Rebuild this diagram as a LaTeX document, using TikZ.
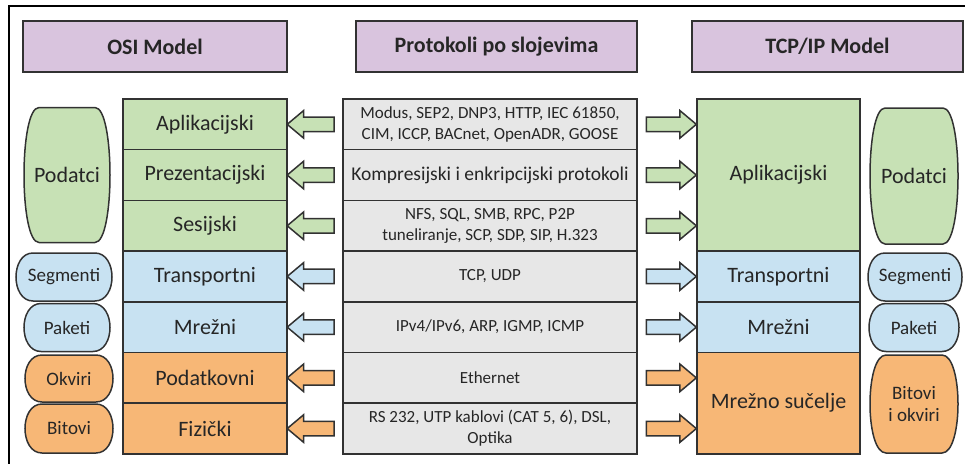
\documentclass[tikz,border=0pt]{standalone}
\usepackage{fontspec}
\setmainfont{Carlito}
\usetikzlibrary{positioning,calc,shapes.arrows,backgrounds}

\definecolor{hdrpurple}{RGB}{217,196,222}
\definecolor{laygreen}{RGB}{199,225,181}
\definecolor{layblue}{RGB}{200,226,242}
\definecolor{layorange}{RGB}{247,183,118}
\definecolor{protgrey}{RGB}{231,231,231}
\definecolor{edgegrey}{RGB}{50,50,50}
\definecolor{txtdark}{RGB}{38,38,38}

\tikzset{hdrbox/.style={
  shape=rectangle,
  draw=edgegrey,
  fill=hdrpurple,
  line width=2pt,
  minimum height=51pt,
  outer sep=0pt,
  text=txtdark,
  font=\fontsize{22}{26}\selectfont\bfseries,
  },
  layerbox/.style={
  shape=rectangle,
  draw=edgegrey,
  line width=1.5pt,
  minimum width=164pt,
  minimum height=50.7pt,
  outer sep=0pt,
  text=txtdark,
  font=\fontsize{22}{26}\selectfont,
  },
  protbox/.style={
  shape=rectangle,
  draw=edgegrey,
  fill=protgrey,
  line width=1.5pt,
  minimum width=294pt,
  minimum height=50.7pt,
  outer sep=0pt,
  align=center,
  text=txtdark,
  font=\fontsize{17}{21}\selectfont,
  },
  pillbox/.style={
  shape=rectangle,
  inner sep=0pt,
  outer sep=0pt,
  align=center,
  text=txtdark,
  font=\fontsize{19}{22}\selectfont,
  },
  pilledge/.style={
  draw=edgegrey,
  line width=1.5pt,
  },
  larrow/.style={
  shape=single arrow,
  shape border rotate=180,
  draw=edgegrey,
  line width=1.5pt,
  inner sep=6.5pt,
  single arrow head extend=6.5pt,
  single arrow tip angle=80,
  minimum height=47pt,
  },
  rarrow/.style={
  larrow,
  shape border rotate=0,
  minimum height=50pt,
  },
  }

% barrel outline round a pill node: #1 node, #2 bulge, #3 fill
\newcommand{\barrelpill}[3]{%
  \path[pilledge, fill=#3]
    ($(#1.north west)+(#2,0)$) -- ($(#1.north east)+(-#2,0)$)
    .. controls ($(#1.north east)+(#2/3,0)$) and ($(#1.south east)+(#2/3,0)$) .. ($(#1.south east)+(-#2,0)$)
    -- ($(#1.south west)+(#2,0)$)
    .. controls ($(#1.south west)+(-#2/3,0)$) and ($(#1.north west)+(-#2/3,0)$) .. cycle;}

\begin{document}
\begin{tikzpicture}[x=1pt,y=-1pt]
  \useasboundingbox (0,0) rectangle (965,463);
  \draw[line width=1.2pt, black] (9,6) rectangle (975,475);

  % headers
  \node[hdrbox, minimum width=264pt] (osi)   at (155,46.5)   {OSI Model};
  \node[hdrbox, minimum width=281pt] (prot)  at (496.5,46.5) {Protokoli po slojevima};
  \node[hdrbox, minimum width=271pt] (tcpip) at (827.5,46.5) {TCP/IP Model};

  % OSI layers
  \node[layerbox, fill=laygreen]  (o1) at (205,124.35) {Aplikacijski};
  \node[layerbox, fill=laygreen,  below=0pt of o1] (o2) {Prezentacijski};
  \node[layerbox, fill=laygreen,  below=0pt of o2] (o3) {Sesijski};
  \node[layerbox, fill=layblue,   below=0pt of o3] (o4) {Transportni};
  \node[layerbox, fill=layblue,   below=0pt of o4] (o5) {Mrežni};
  \node[layerbox, fill=layorange, below=0pt of o5] (o6) {Podatkovni};
  \node[layerbox, fill=layorange, below=0pt of o6] (o7) {Fizički};

  % protocols
  \node[protbox] (p1) at (490,124.35) {Modus, SEP2, DNP3, HTTP, IEC 61850,\\CIM, ICCP, BACnet, OpenADR, GOOSE};
  \node[protbox, below=0pt of p1, font=\fontsize{19.5}{23}\selectfont] (p2) {Kompresijski i enkripcijski protokoli};
  \node[protbox, below=0pt of p2] (p3) {NFS, SQL, SMB, RPC, P2P\\tuneliranje, SCP, SDP, SIP, H.323};
  \node[protbox, below=0pt of p3] (p4) {TCP, UDP};
  \node[protbox, below=0pt of p4] (p5) {IPv4/IPv6, ARP, IGMP, ICMP};
  \node[protbox, below=0pt of p5] (p6) {Ethernet};
  \node[protbox, below=0pt of p6] (p7) {RS 232, UTP kablovi (CAT 5, 6), DSL,\\Optika};

  % TCP/IP layers
  \node[layerbox, fill=laygreen, minimum width=163pt, minimum height=152.1pt] (t1) at (778.5,175.05) {Aplikacijski};
  \node[layerbox, fill=layblue, minimum width=163pt, below=0pt of t1] (t2) {Transportni};
  \node[layerbox, fill=layblue, minimum width=163pt, below=0pt of t2] (t3) {Mrežni};
  \node[layerbox, fill=layorange, minimum width=163pt, minimum height=101.4pt, below=0pt of t3] (t4) {Mrežno sučelje};

  % data units, left
  \node[pillbox, minimum width=86pt, minimum height=135pt, font=\fontsize{22}{26}\selectfont] (l1) at (67,175) {Podatci};
  \node[pillbox, minimum width=96pt, minimum height=48pt] (l2) at (64,277) {Segmenti};
  \node[pillbox, minimum width=86pt, minimum height=48pt] (l3) at (67,327.5) {Paketi};
  \node[pillbox, minimum width=88pt, minimum height=47pt] (l4) at (69,378.5) {Okviri};
  \node[pillbox, minimum width=88pt, minimum height=49pt] (l5) at (69,428.5) {Bitovi};

  % data units, right
  \node[pillbox, minimum width=88pt, minimum height=136pt, font=\fontsize{22}{26}\selectfont] (r1) at (914,176) {Podatci};
  \node[pillbox, minimum width=94pt, minimum height=48pt] (r2) at (915,277) {Segmenti};
  \node[pillbox, minimum width=90pt, minimum height=48pt] (r3) at (914,327.5) {Paketi};
  \node[pillbox, minimum width=88pt, minimum height=98pt] (r4) at (914,404) {Bitovi\\i okviri};

  \begin{scope}[on background layer]
    \barrelpill{l1}{15}{laygreen}
    \barrelpill{l2}{17}{layblue}
    \barrelpill{l3}{17}{layblue}
    \barrelpill{l4}{17}{layorange}
    \barrelpill{l5}{17}{layorange}
    \barrelpill{r1}{15}{laygreen}
    \barrelpill{r2}{17}{layblue}
    \barrelpill{r3}{17}{layblue}
    \barrelpill{r4}{16}{layorange}
  \end{scope}

  % arrows protocols -> OSI
  \node[larrow, fill=laygreen]  (la1) at ($(o1.east)!.5!(p1.west)$) {};
  \node[larrow, fill=laygreen]  (la2) at ($(o2.east)!.5!(p2.west)$) {};
  \node[larrow, fill=laygreen]  (la3) at ($(o3.east)!.5!(p3.west)$) {};
  \node[larrow, fill=layblue]   (la4) at ($(o4.east)!.5!(p4.west)$) {};
  \node[larrow, fill=layblue]   (la5) at ($(o5.east)!.5!(p5.west)$) {};
  \node[larrow, fill=layorange] (la6) at ($(o6.east)!.5!(p6.west)$) {};
  \node[larrow, fill=layorange] (la7) at ($(o7.east)!.5!(p7.west)$) {};

  % arrows protocols -> TCP/IP
  \node[rarrow, fill=laygreen]  (ra1) at ($(p1.east)!.5!(t1.west |- p1.east)$) {};
  \node[rarrow, fill=laygreen]  (ra2) at ($(p2.east)!.5!(t1.west |- p2.east)$) {};
  \node[rarrow, fill=laygreen]  (ra3) at ($(p3.east)!.5!(t1.west |- p3.east)$) {};
  \node[rarrow, fill=layblue]   (ra4) at ($(p4.east)!.5!(t2.west)$) {};
  \node[rarrow, fill=layblue]   (ra5) at ($(p5.east)!.5!(t3.west)$) {};
  \node[rarrow, fill=layorange] (ra6) at ($(p6.east)!.5!(t4.west |- p6.east)$) {};
  \node[rarrow, fill=layorange] (ra7) at ($(p7.east)!.5!(t4.west |- p7.east)$) {};
\end{tikzpicture}
\end{document}
